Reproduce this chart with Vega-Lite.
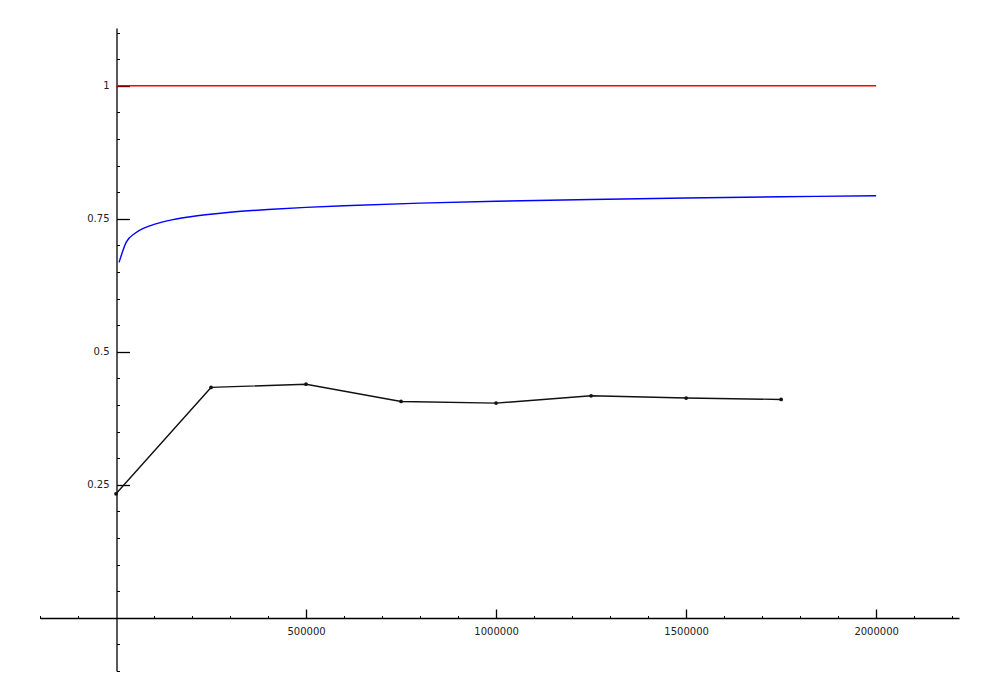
{
  "$schema": "https://vega.github.io/schema/vega-lite/v6.json",
  "autosize": "none",
  "width": 919,
  "height": 643,
  "padding": {"left": 40, "top": 28, "right": 41, "bottom": 29},
  "background": "white",
  "config": {"view": {"stroke": null}, "axis": {"grid": false, "zindex": 1}},
  "resolve": {"axis": {"x": "independent", "y": "independent"}},
  "layer": [
    {
      "data": {"values": [{"x": 0, "y": 1}, {"x": 2000000, "y": 1}]},
      "mark": {"type": "line", "color": "#ff0000", "strokeWidth": 1.4},
      "encoding": {
        "x": {"field": "x", "type": "quantitative", "scale": {"domain": [-200000, 2218000], "nice": false, "zero": false},
          "axis": {"orient": "bottom", "offset": -53, "title": null, "ticks": false, "domain": true, "domainColor": "#000", "domainWidth": 1.3,
            "values": [500000, 1000000, 1500000, 2000000], "labelExpr": "format(datum.value, 'd')", "labelFont": "DejaVu Sans", "labelFontSize": 10, "labelColor": "#222", "labelPadding": 8, "labelFlush": false, "labelOverlap": false}},
        "y": {"field": "y", "type": "quantitative", "scale": {"domain": [-0.1, 1.1085], "nice": false, "zero": false},
          "axis": {"orient": "left", "offset": -76.5, "title": null, "ticks": false, "domain": true, "domainColor": "#000", "domainWidth": 1.3,
            "values": [0.25, 0.5, 0.75, 1], "labelExpr": "format(datum.value, '.2~f')", "labelFont": "DejaVu Sans", "labelFontSize": 10, "labelColor": "#222", "labelPadding": 7.5, "labelFlush": false, "labelOverlap": false}}
      }
    },
    {
      "data": {"values": [
        {"x": 8000, "y": 0.668}, {"x": 27000, "y": 0.706}, {"x": 50000, "y": 0.7227}, {"x": 75000, "y": 0.7327},
        {"x": 100000, "y": 0.7394}, {"x": 150000, "y": 0.7483}, {"x": 200000, "y": 0.7542}, {"x": 300000, "y": 0.7621},
        {"x": 400000, "y": 0.7674}, {"x": 500000, "y": 0.7714}, {"x": 600000, "y": 0.7745}, {"x": 800000, "y": 0.7793},
        {"x": 1000000, "y": 0.7829}, {"x": 1250000, "y": 0.7863}, {"x": 1500000, "y": 0.789}, {"x": 1750000, "y": 0.7913},
        {"x": 2000000, "y": 0.7932}
      ]},
      "mark": {"type": "line", "color": "#0000ff", "strokeWidth": 1.4, "interpolate": "monotone"},
      "encoding": {
        "x": {"field": "x", "type": "quantitative",
          "axis": {"orient": "top", "offset": -590, "title": null, "labels": false, "domain": false, "ticks": true, "tickColor": "#000", "tickWidth": 1.3, "tickSize": 9,
            "values": [500000, 1000000, 1500000, 2000000]}},
        "y": {"field": "y", "type": "quantitative",
          "axis": {"orient": "right", "offset": -842.5, "title": null, "labels": false, "domain": false, "ticks": true, "tickColor": "#000", "tickWidth": 1.3, "tickSize": 13,
            "values": [0.25, 0.5, 0.75, 1]}}
      }
    },
    {
      "data": {"values": [
        {"x": 0, "y": 0.233}, {"x": 250000, "y": 0.433}, {"x": 500000, "y": 0.439}, {"x": 750000, "y": 0.4066},
        {"x": 1000000, "y": 0.4035}, {"x": 1250000, "y": 0.4173}, {"x": 1500000, "y": 0.413}, {"x": 1750000, "y": 0.4104}
      ]},
      "mark": {"type": "line", "color": "#111111", "strokeWidth": 1.4, "point": {"filled": true, "color": "#111111", "size": 14}},
      "encoding": {
        "x": {"field": "x", "type": "quantitative",
          "axis": {"orient": "top", "offset": -590.5, "title": null, "labels": false, "domain": false, "ticks": true, "tickColor": "#000", "tickWidth": 1, "tickSize": 3,
            "values": [-200000, -100000, 100000, 200000, 300000, 400000, 600000, 700000, 800000, 900000, 1100000, 1200000, 1300000, 1400000, 1600000, 1700000, 1800000, 1900000, 2100000, 2200000]}},
        "y": {"field": "y", "type": "quantitative",
          "axis": {"orient": "right", "offset": -842.5, "title": null, "labels": false, "domain": false, "ticks": true, "tickColor": "#000", "tickWidth": 1, "tickSize": 3,
            "values": [-0.1, -0.05, 0.05, 0.1, 0.15, 0.2, 0.3, 0.35, 0.4, 0.45, 0.55, 0.6, 0.65, 0.7, 0.8, 0.85, 0.9, 0.95, 1.05, 1.1]}}
      }
    }
  ]
}
